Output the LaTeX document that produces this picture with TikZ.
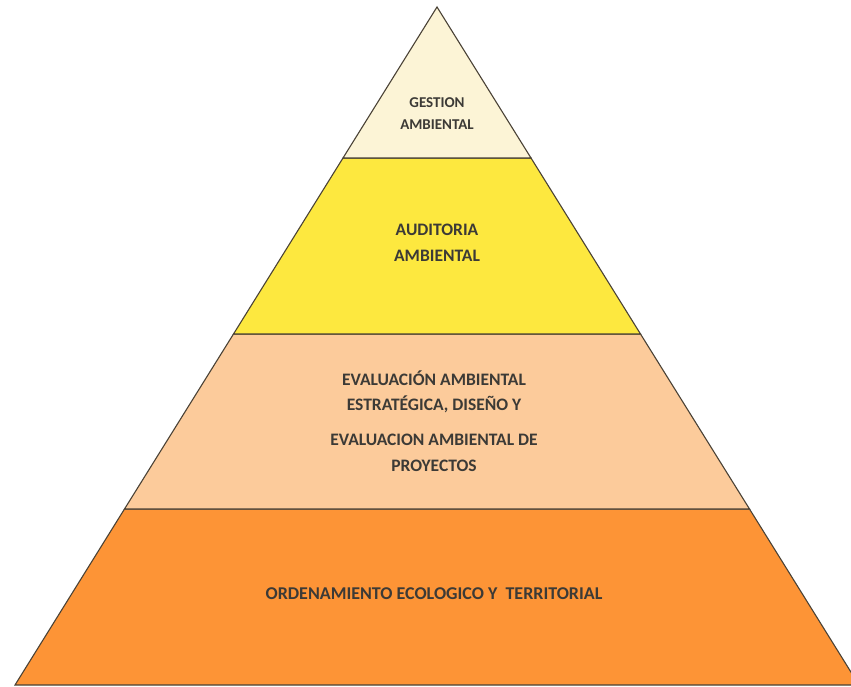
\documentclass[tikz,border=0pt]{standalone}
\usepackage{fontspec}
\setmainfont{Carlito}
\definecolor{cream}{HTML}{FCF4D6}
\definecolor{yel}{HTML}{FDE83F}
\definecolor{peach}{HTML}{FCCB9B}
\definecolor{orng}{HTML}{FD9436}
\definecolor{edge}{HTML}{4A4236}
\definecolor{txt}{HTML}{3C3A36}
\tikzset{
  layer/.style={draw=edge, line width=1.1pt, line join=miter},
  lbl/.style={text=txt, font=\bfseries\fontsize{17.5}{25.5}\selectfont, align=center, inner sep=0pt},
  lbltop/.style={lbl, font=\bfseries\fontsize{15}{22}\selectfont}
}
\begin{document}
\begin{tikzpicture}[x=1pt,y=-1pt]
\useasboundingbox (0,0) rectangle (851,687);
\fill[white] (0,0) rectangle (851,687);
\clip (0,0) rectangle (851,687);
\coordinate (apex) at (437,7);
\coordinate (l1) at (343,158); \coordinate (r1) at (531,158);
\coordinate (l2) at (233.5,334); \coordinate (r2) at (640.5,334);
\coordinate (l3) at (124.5,509); \coordinate (r3) at (749.5,509);
\coordinate (l4) at (15,685); \coordinate (r4) at (859,685);
\draw[layer, fill=orng] (l3) -- (r3) -- (r4) -- (l4) -- cycle;
\draw[layer, fill=peach] (l2) -- (r2) -- (r3) -- (l3) -- cycle;
\draw[layer, fill=yel] (l1) -- (r1) -- (r2) -- (l2) -- cycle;
\draw[layer, fill=cream] (apex) -- (r1) -- (l1) -- cycle;
\node[lbltop] (t1) at (437,114) {GESTION\\AMBIENTAL};
\node[lbl] (t2) at (437,243) {AUDITORIA\\AMBIENTAL};
\node[lbl] (t3a) at (434,392) {EVALUACIÓN AMBIENTAL\\ESTRATÉGICA, DISEÑO Y};
\node[lbl] (t3b) at (434,453) {EVALUACION AMBIENTAL DE\\PROYECTOS};
\node[lbl, font=\bfseries\fontsize{18}{26}\selectfont] (t4) at (434,594) {ORDENAMIENTO ECOLOGICO Y\ \ TERRITORIAL};
\end{tikzpicture}
\end{document}
